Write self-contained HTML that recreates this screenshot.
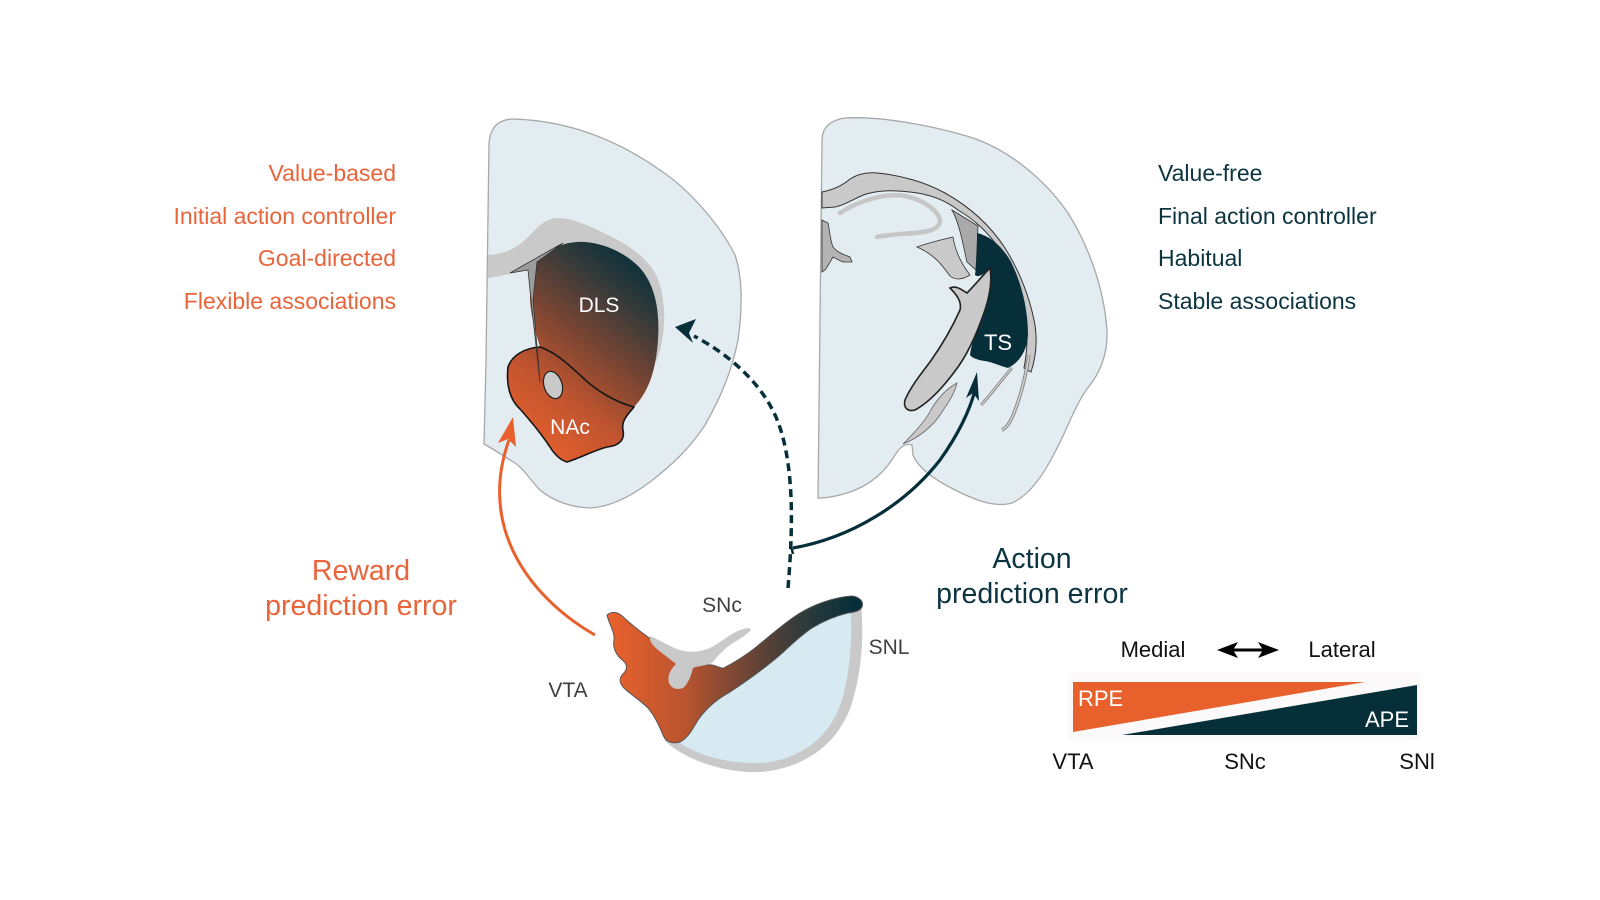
<!DOCTYPE html>
<html><head><meta charset="utf-8"><style>
html,body{margin:0;padding:0;background:#fff;}
svg{display:block;}
text{font-family:"Liberation Sans",Arial,sans-serif;}
</style></head><body>
<svg width="1600" height="900" viewBox="0 0 1600 900" xmlns="http://www.w3.org/2000/svg">
<defs>
<linearGradient id="gL" gradientUnits="userSpaceOnUse" x1="512" y1="440" x2="650" y2="262">
<stop offset="0" stop-color="#E8612D"/><stop offset="0.3" stop-color="#C0542F"/><stop offset="0.55" stop-color="#7A4533"/><stop offset="0.8" stop-color="#343A3A"/><stop offset="1" stop-color="#062F3A"/>
</linearGradient>
<linearGradient id="gV" gradientUnits="userSpaceOnUse" x1="612" y1="0" x2="856" y2="0">
<stop offset="0" stop-color="#E8612D"/><stop offset="0.3" stop-color="#B9542F"/><stop offset="0.55" stop-color="#6E4535"/><stop offset="0.8" stop-color="#2C3A3C"/><stop offset="1" stop-color="#062F3A"/>
</linearGradient>
</defs>

<!-- Left slice -->
<path d="M489,143 C490,128 498,120 512,119 C560,120 610,135 660,170 C690,190 720,225 735,255 C742,275 743,305 738,340 C732,370 722,395 705,425 C690,448 672,465 650,482 C630,497 610,507 590,508 C568,507 552,500 540,490 C530,480 525,470 515,463 C505,457 495,450 484,444 L486,360 Z" fill="#E2ECF1" stroke="#a8a8a8" stroke-width="1.3"/>
<path d="M488,255 C505,254 518,248 530,235 C540,224 548,218 558,218 C572,218 590,226 610,236 C630,246 648,258 657,277 C665,295 665,320 663,335 C661,348 659,356 656,362 L640,362 L533,263 L510,274 L488,278 Z" fill="#c9c9c9"/>
<!-- DLS + NAc -->
<path d="M533,263 C545,251 560,243 577,242 C600,241 625,252 640,268 C655,285 660,310 658,340 C656,368 650,390 634,407 C615,402 595,390 580,375 C568,364 555,352 540,347 C535,330 531,315 530,300 C530,285 530,272 533,263 Z" fill="url(#gL)"/>
<path d="M508,367 C512,355 525,348 540,347 C555,352 568,364 580,375 C595,390 615,402 634,407 C628,414 621,421 623,430 C625,440 619,446 607,447 C595,450 580,458 567,462 C560,460 555,455 550,447 C540,432 528,418 520,409 C510,400 506,385 508,367 Z" fill="url(#gL)" stroke="#151515" stroke-width="1.6" stroke-linejoin="round"/>
<path d="M510,273 L563,243 L537,262 L533,300 L540,382 L531,300 L528,270 Z" fill="#9c9c9c" stroke="#333" stroke-width="0.8"/>
<ellipse cx="553" cy="385" rx="9" ry="14" transform="rotate(-18 553 385)" fill="#c9c9c9" stroke="#222" stroke-width="1.2"/>
<text x="599" y="312" font-size="21" fill="#fff" text-anchor="middle">DLS</text>
<text x="570" y="434" font-size="21" fill="#fff" text-anchor="middle">NAc</text>

<!-- Right slice -->
<path d="M822,140 C822,128 830,120 845,118 C880,116 930,125 970,137 C1010,150 1045,180 1068,213 C1090,248 1104,290 1107,330 C1108,355 1100,372 1090,385 C1076,402 1068,428 1055,452 C1044,474 1030,495 1012,503 C995,508 975,500 955,490 C935,480 918,468 913,455 L912,445 C905,443 900,447 895,455 C885,472 870,485 850,492 C838,496 828,498 818,498 Z" fill="#E2ECF1" stroke="#a8a8a8" stroke-width="1.3"/>
<path d="M822,192 C832,190 842,186 850,179 C858,174 866,172 877,173 C900,175 925,182 945,193 C970,207 990,225 1005,248 C1020,272 1030,298 1035,325 C1038,345 1035,360 1031,372 L1024,368 C1027,352 1028,338 1026,318 C1021,293 1012,270 1000,250 C988,232 975,220 958,210 C945,200 930,194 910,192 C895,190 880,190 866,194 C855,198 845,205 835,207 L822,208 Z" fill="#c9c9c9" stroke="#333" stroke-width="1"/>
<path d="M840,213 C860,200 885,193 905,196 C925,200 940,212 940,222 C938,232 920,233 900,234 C890,235 880,236 877,237" fill="none" stroke="#c6c6c6" stroke-width="4.5" stroke-linecap="round"/>
<path d="M822,220 L828,223 C830,232 830,240 833,247 C838,253 845,255 850,257 L852,262 L843,262 C838,260 835,258 833,257 C830,262 827,268 825,270 L822,272 Z" fill="#b3b3b3" stroke="#333" stroke-width="0.8"/>
<path d="M952,210 L978,226 L976,270 L967,262 C963,245 960,225 952,210 Z" fill="#a9a9a9" stroke="#333" stroke-width="0.8"/>
<path d="M917,247 C928,243 940,240 953,237 C955,250 960,262 970,275 C962,280 955,280 950,276 C942,265 935,255 917,247 Z" fill="#c9c9c9" stroke="#333" stroke-width="0.8"/>
<path d="M977,233 C990,236 1002,246 1011,262 C1022,284 1028,310 1028,335 C1027,350 1020,362 1008,368 C1000,366 992,362 985,361 C978,360 972,358 970,355 C972,340 980,320 985,300 C989,285 991,270 990,268 C985,274 978,278 975,275 C977,260 977,245 977,233 Z" fill="#062F3A"/>
<path d="M950,288 C956,285 962,290 967,293 C975,285 983,275 990,268 C992,280 990,295 985,310 C978,330 970,350 958,367 C945,385 930,402 915,410 C908,412 903,408 905,400 C910,388 920,375 930,362 C942,345 952,328 960,310 C962,302 957,295 950,288 Z" fill="#c9c9c9" stroke="#222" stroke-width="1.6"/>
<path d="M957,383 C955,393 948,403 940,415 C932,427 918,438 903,444 C912,435 925,422 932,408 C940,395 948,388 957,383 Z" fill="#c9c9c9" stroke="#666" stroke-width="0.8"/>
<path d="M1029,355 C1026,375 1021,395 1014,413 C1010,423 1006,428 1002,430" fill="none" stroke="#888" stroke-width="3.5"/>
<path d="M1029,355 C1026,375 1021,395 1014,413 C1010,423 1006,428 1002,430" fill="none" stroke="#d2d2d2" stroke-width="1.5"/>
<path d="M1012,368 C1003,378 993,392 981,405" fill="none" stroke="#888" stroke-width="3"/>
<path d="M1012,368 C1003,378 993,392 981,405" fill="none" stroke="#d2d2d2" stroke-width="1.2"/>
<text x="998" y="350" font-size="22" fill="#fff" text-anchor="middle">TS</text>

<!-- Midbrain -->
<path d="M664,740 C690,765 740,776 770,771 C810,764 838,742 851,706 C862,672 864,636 861,604 L848,606 C835,612 822,620 812,626 C800,634 790,644 780,653 C765,666 748,678 730,690 L700,712 Z" fill="#c9c9c9"/>
<path d="M679,742 C700,758 740,766 770,762 C805,756 830,735 841,703 C850,675 852,640 851,612 L848,613 C835,616 822,622 812,628 C800,636 790,646 780,655 C765,668 748,680 730,692 C715,700 705,710 698,720 Z" fill="#D7EAF2"/>
<path d="M607,615 C612,611 618,612 622,616 C632,625 645,636 660,645 C668,650 676,655 680,662 C690,666 705,664 712,665 C718,666 721,669 724,668 C735,662 745,656 755,648 C770,636 785,622 800,613 C815,604 835,597 852,596 C860,597 864,602 862,607 C860,611 855,612 848,613 C835,616 822,622 812,628 C800,636 790,646 780,655 C765,668 748,680 730,692 C715,700 705,710 698,720 C692,730 688,738 680,742 C672,744 666,742 663,735 C659,725 654,715 648,708 C640,700 630,694 624,688 C619,683 619,678 623,674 C628,669 628,664 621,659 C614,652 613,646 614,640 C615,632 609,624 607,615 Z" fill="url(#gV)" stroke="#555" stroke-width="1"/>
<path d="M650,636 C660,640 670,647 680,650 C690,653 700,652 710,648 C720,643 730,634 740,630 C746,628 750,627 751,630 C748,634 738,640 730,645 C722,651 716,658 712,663 C705,666 697,666 693,668 C691,676 688,684 683,688 C677,690 672,689 669,683 C667,676 670,670 676,664 C670,659 663,654 657,649 C652,645 649,640 650,636 Z" fill="#c9c9c9"/>
<text x="722" y="612" font-size="21" fill="#404040" text-anchor="middle">SNc</text>
<text x="889" y="654" font-size="21" fill="#404040" text-anchor="middle">SNL</text>
<text x="568" y="697" font-size="21" fill="#404040" text-anchor="middle">VTA</text>

<!-- Arrows -->
<path d="M595,635 C560,615 520,580 505,530 C495,495 500,465 509,440" fill="none" stroke="#E8612D" stroke-width="3"/>
<path d="M513,417 L516,447 L508,439 L498,443 Z" fill="#E8612D"/>
<path d="M788,588 C792,540 796,470 778,422 C764,385 730,355 694,336" fill="none" stroke="#062F3A" stroke-width="3.5" stroke-dasharray="8,5"/>
<path d="M675,327 L696,319 L689,333 L693,343 Z" fill="#062F3A"/>
<path d="M793,548 C850,538 905,505 940,460 C958,435 970,410 975,390" fill="none" stroke="#062F3A" stroke-width="3.2"/>
<path d="M790,542 L793,554" stroke="#062F3A" stroke-width="2.5"/>
<path d="M977,372 L979,401 L973,393 L966,398 Z" fill="#062F3A"/>

<!-- Left list -->
<g font-size="23" fill="#E8643A" text-anchor="end">
<text x="396" y="181">Value-based</text>
<text x="396" y="224">Initial action controller</text>
<text x="396" y="266">Goal-directed</text>
<text x="396" y="309">Flexible associations</text>
</g>
<!-- Right list -->
<g font-size="23" fill="#0B3440">
<text x="1158" y="181">Value-free</text>
<text x="1158" y="224">Final action controller</text>
<text x="1158" y="266">Habitual</text>
<text x="1158" y="309">Stable associations</text>
</g>

<g font-size="28.5" fill="#E8643A" text-anchor="middle">
<text x="361" y="580">Reward</text>
<text x="361" y="615">prediction error</text>
</g>
<g font-size="28.5" fill="#0B3440" text-anchor="middle">
<text x="1032" y="568">Action</text>
<text x="1032" y="603">prediction error</text>
</g>

<!-- Legend -->
<text x="1153" y="657" font-size="22" fill="#111" text-anchor="middle">Medial</text>
<text x="1342" y="657" font-size="22" fill="#111" text-anchor="middle">Lateral</text>
<path d="M1228,650 L1268,650" stroke="#000" stroke-width="3"/>
<path d="M1217,650 L1238,642 L1233,650 L1238,658 Z" fill="#000"/>
<path d="M1279,650 L1258,642 L1263,650 L1258,658 Z" fill="#000"/>
<rect x="1068" y="673" width="352" height="67" fill="#fbf9f9"/>
<path d="M1073,682 L1365,682 L1073,732 Z" fill="#E8612D"/>
<path d="M1122,735 L1417,685 L1417,735 Z" fill="#062F3A"/>
<text x="1078" y="706" font-size="22" fill="#fff">RPE</text>
<text x="1409" y="727" font-size="22" fill="#fff" text-anchor="end">APE</text>
<g font-size="22" fill="#111" text-anchor="middle">
<text x="1073" y="769">VTA</text>
<text x="1245" y="769">SNc</text>
<text x="1417" y="769">SNl</text>
</g>
</svg>
</body></html>
